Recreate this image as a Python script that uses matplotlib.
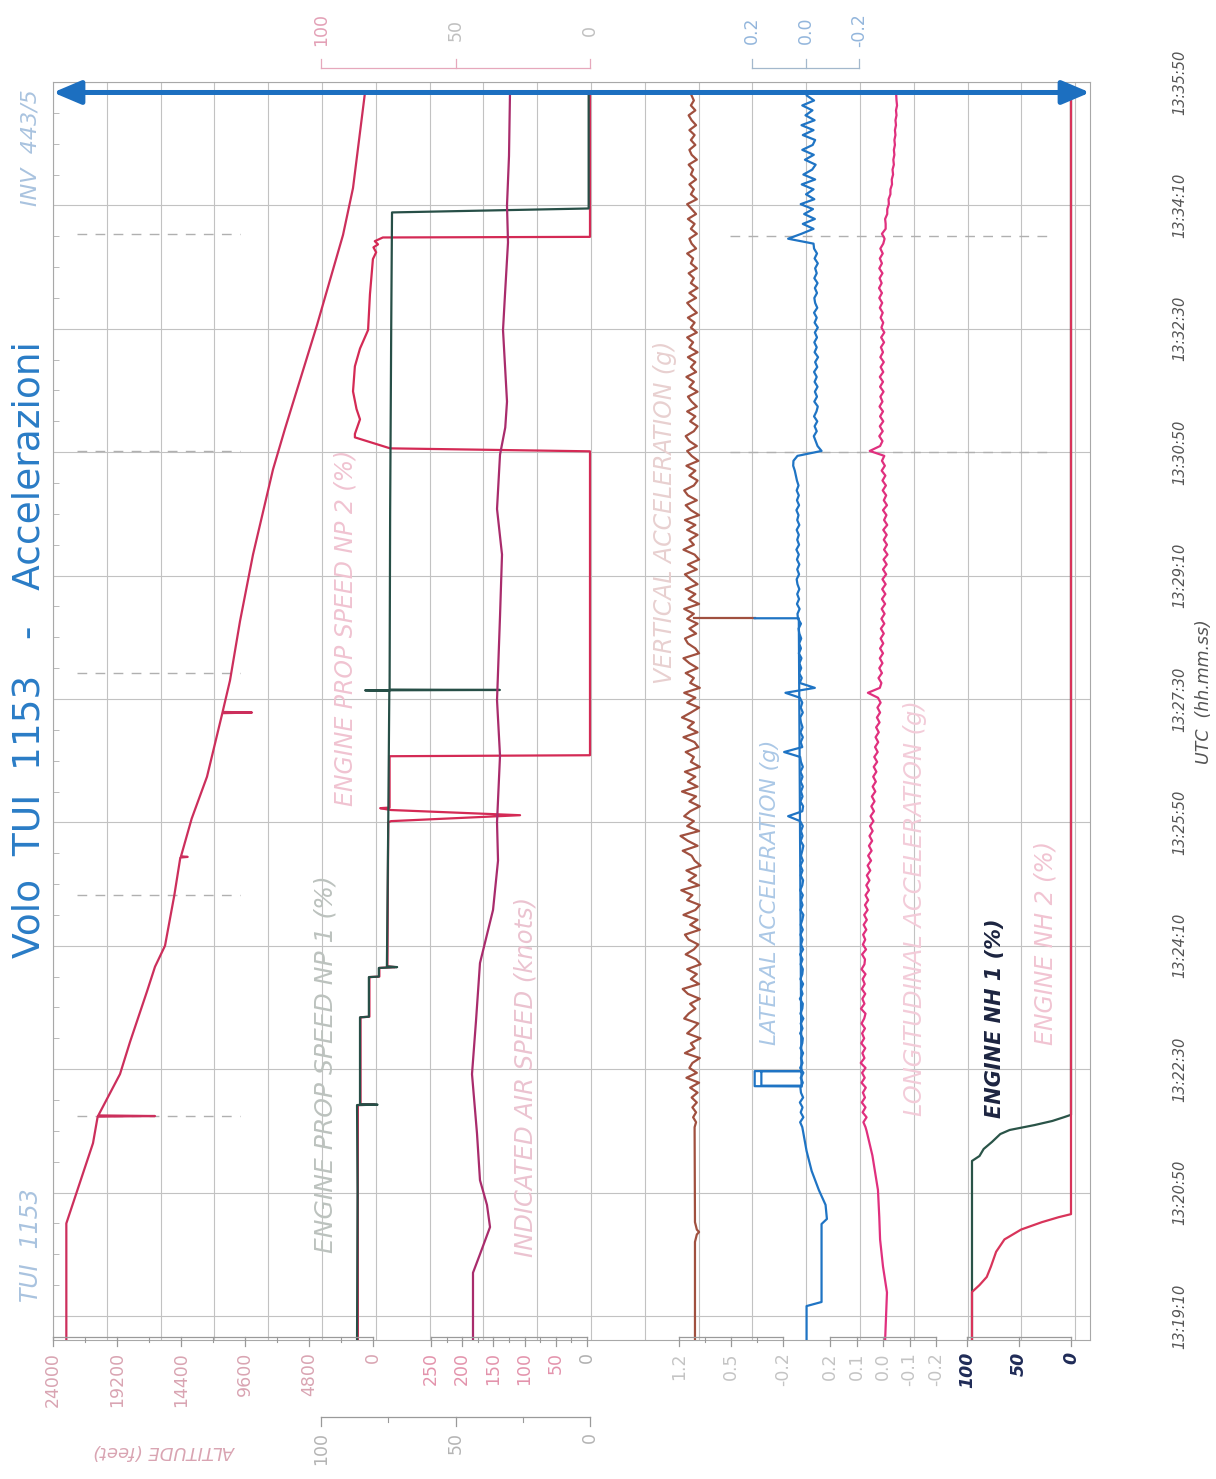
import numpy as np
import matplotlib
matplotlib.use("Agg")
import matplotlib.pyplot as plt
from matplotlib import transforms
from matplotlib.lines import Line2D

# ---------------- data (time = seconds after 13:19:10) ----------------
time_ticks = np.arange(0, 1001, 100)
time_labels = ['13:19:10', '13:20:50', '13:22:30', '13:24:10', '13:25:50', '13:27:30',
               '13:29:10', '13:30:50', '13:32:30', '13:34:10', '13:35:50']

alt_t = [-19.5, 75, 140, 161.5, 162, 162.5, 196, 222, 263, 283, 300, 341, 371.5, 372, 372.5,
         403, 437, 488.5, 489, 489.5, 515, 563, 617, 686, 719, 803, 876, 914, 991.5]
alt_ft = [23000, 23000, 21000, 20650, 16350, 20600, 18975, 18225, 16950, 16350, 15600, 14900,
          14450, 13900, 14400, 13600, 12450, 11300, 9075, 11280, 10725, 9975, 9000, 7500,
          6600, 4200, 2250, 1500, 600]

np1_t = [-19.5, 100, 170.9, 171.2, 171.5, 242, 242.5, 274.6, 275, 282, 282.7, 283.3, 400,
         506.5, 507, 507.3, 507.6, 650, 800, 894.3, 897.5, 991.5]
np1_pct = [86.6, 86.4, 86.6, 79.0, 85.5, 85.5, 82.2, 82.2, 78.5, 78.5, 71.7, 75.5, 75.0,
           74.6, 83.6, 33.5, 74.5, 74.3, 73.9, 73.6, 0.5, 0.5]

np2_t = [-19.5, 170.9, 171.2, 171.5, 242, 242.5, 274.6, 275, 282, 282.7, 283.3, 400, 401,
         405.8, 410, 411.5, 412, 453.6, 454.4, 700.7, 703.1, 712, 714.8, 726.6, 735, 749.3,
         769.6, 784, 799, 828, 856.5, 862, 866, 868.4, 871, 874, 874.5, 991.5]
np2_pct = [86.3, 86.3, 80.0, 85.3, 85.3, 82.0, 82.0, 78.3, 78.3, 72.5, 75.3, 75.0, 74.0,
           26.0, 74.0, 78.0, 74.5, 74.5, 0.0, 0.0, 74.3, 87.4, 87.4, 85.5, 86.8, 88.1,
           87.4, 85.5, 82.5, 81.8, 80.7, 79.5, 80.5, 78.8, 80.0, 77.0, 0.0, 0.0]

ias_t = [-19.5, 35, 50, 72, 90, 110, 148, 196, 239, 286, 329, 369, 400, 454, 499, 567, 617,
         654, 698, 720, 741, 770, 799, 828, 870, 900, 940, 991.5]
ias_kt = [182.7, 182.7, 171.5, 155.4, 160.3, 171.5, 176.3, 184.3, 177.9, 171.5, 150.6, 142.6,
          144.2, 139.4, 144.2, 139.4, 136.2, 144.2, 139.4, 131.0, 128.2, 131.4, 134.6, 131.4,
          126.6, 128.2, 125.0, 123.4]

nh1_t = [-19.5, 125.6, 129.6, 135.3, 141, 147.4, 150.7, 154.7, 158, 161, 163, 991.5]
nh1_pct = [95.2, 95.2, 88, 84, 76, 68, 59, 35, 18, 7, 0, 0]
nh2_t = [-19.5, 19.4, 25, 31.6, 40, 52, 62, 70, 76, 80, 82.5, 991.5]
nh2_pct = [95.2, 95.2, 88, 81, 77, 72, 64, 48, 28, 12, 0, 0]

# accelerations: start section, then 4 s samples from 153 s
acc_t = np.arange(153, 990, 4)

vacc_t0 = [-19.5, 60, 66, 68, 70, 76, 153]
vacc_g0 = [0.985, 0.985, 0.96, 0.93, 0.96, 0.985, 0.99]
vacc_g = np.array("""
0.99 0.97 1.01 0.97 1.02 0.96 1.03 0.95 1.05 0.93
1.10 0.96 1.06 1.02 0.92 1.12 0.99 1.04 0.91 1.09
1.01 0.94 1.13 1.07 0.98 1.05 0.92 1.08 1.15 0.93
1.04 0.96 1.09 0.91 0.97 1.11 1.00 0.94 1.07 1.12
0.92 1.05 0.95 1.14 0.98 0.92 1.09 1.02 1.17 0.93
1.07 0.97 1.10 0.91 0.99 1.03 1.15 0.95 1.08 1.18
0.93 1.09 1.00 1.13 1.05 0.92 1.06 0.97 1.16 0.95
1.08 0.98 1.12 0.92 1.04 1.00 1.11 0.94 0.99 1.14
0.95 1.08 1.00 1.16 1.04 0.93 1.09 0.98 1.13 0.92
1.05 1.00 1.11 0.95 1.06 1.14 0.93 0.98 1.08 1.12
0.97 1.06 0.95 1.09 1.00 1.13 0.93 1.07 0.98 1.11
0.95 1.04 1.12 0.96 1.08 0.93 0.99 1.14 1.00 1.06
0.95 1.09 0.98 1.12 0.93 1.04 1.11 0.96 1.08 1.13
1.00 0.95 1.06 0.98 1.10 0.94 1.03 1.09 0.96 1.06
1.11 1.00 0.95 1.05 0.98 1.09 0.96 1.03 1.08 0.95
1.06 1.00 1.10 0.97 1.04 0.98 1.08 0.95 1.06 1.01
1.09 0.96 1.04 0.99 1.08 0.96 1.03 1.09 0.97 1.06
0.95 1.04 1.00 1.07 0.96 1.04 1.01 1.09 0.97 1.03
1.06 0.96 1.04 0.99 1.08 0.97 1.03 1.09 0.96 1.04
1.00 1.06 0.97 1.04 1.01 1.07 0.96 1.03 1.06 0.98
1.04 0.99 1.06 0.97 1.03 1.07 0.98 1.04 1.00 1.03
""".split(), float)
vacc_glitch_t = [565.4, 565.4]
vacc_glitch_g = [1.00, 0.18]

lat_t0 = [-19.5, 8, 11.3, 74.5, 78.6, 90, 102, 117.5, 133.7, 153]
lat_g0 = [-0.004, -0.004, -0.060, -0.060, -0.080, -0.075, -0.050, -0.023, -0.004, 0.012]
lat_g = np.array("""
0.012 0.020 0.008 0.018 0.011 0.021 0.009 0.017 0.019 0.010
0.018 0.008 0.020 0.011 0.017 0.009 0.019 0.012 0.010 0.020
0.011 0.018 0.008 0.019 0.012 0.010 0.021 0.011 0.017 0.009
0.019 0.012 0.010 0.018 0.011 0.020 0.009 0.017 0.011 0.019
0.010 0.018 0.012 0.008 0.019 0.011 0.017 0.010 0.020 0.012
0.009 0.018 0.011 0.019 0.010 0.017 0.012 0.008 0.018 0.011
0.017 0.010 0.020 0.065 0.012 0.009 0.019 0.011 0.017 0.010
0.018 0.011 0.019 0.010 0.017 0.020 0.080 0.012 0.018 0.010
0.019 0.011 0.017 0.020 0.010 0.018 0.012 0.021 0.075 -0.035
0.022 0.014 0.024 0.016 0.023 0.015 0.025 0.017 0.024 0.016
0.023 0.026 0.017 0.028 0.030 0.022 0.032 0.024 0.031 0.023
0.030 0.033 0.024 0.031 0.023 0.032 0.025 0.034 0.024 0.031
0.025 0.033 0.023 0.031 0.026 0.034 0.024 0.032 0.025 0.033
0.026 0.032 0.036 0.040 0.046 0.045 0.030 -0.060 -0.045 -0.038
-0.031 -0.042 -0.034 -0.044 -0.032 -0.041 -0.046 -0.033 -0.043 -0.035
-0.045 -0.034 -0.042 -0.032 -0.044 -0.036 -0.047 -0.034 -0.042 -0.033
-0.043 -0.035 -0.046 -0.034 -0.042 -0.032 -0.044 -0.036 -0.033 -0.043
-0.035 -0.045 -0.033 -0.042 -0.036 -0.046 -0.034 -0.043 -0.032 -0.030
0.065 0.015 -0.030 0.010 -0.035 0.005 -0.028 0.018 -0.033 -0.002
-0.030 0.014 -0.036 0.008 -0.025 -0.038 0.002 -0.031 0.012 -0.027
-0.036 0.010 -0.030 0.015 -0.034 0.000 -0.026 0.012 -0.032 -0.005
""".split(), float)
lat_glitch_t = [186.0, 186.2, 198.4, 198.4, 198.4, 186.6, 186.6, 565.4, 565.4]
lat_glitch_g = [0.015, 0.19, 0.19, 0.015, 0.165, 0.165, 0.015, 0.025, 0.19]

lon_t0 = [-19.5, 19, 40, 62, 80, 102, 130, 150, 153]
lon_g0 = [-0.008, -0.015, 0.000, 0.011, 0.014, 0.019, 0.040, 0.062, 0.066]
lon_g = np.array("""
0.066 0.074 0.062 0.077 0.066 0.080 0.068 0.076 0.065 0.081
0.069 0.079 0.066 0.084 0.070 0.078 0.067 0.082 0.071 0.079
0.068 0.081 0.071 0.066 0.083 0.070 0.078 0.067 0.080 0.069
0.077 0.066 0.081 0.070 0.068 0.079 0.064 0.076 0.067 0.075
0.063 0.073 0.061 0.071 0.058 0.068 0.056 0.066 0.053 0.063
0.051 0.061 0.048 0.058 0.045 0.056 0.043 0.053 0.041 0.051
0.039 0.049 0.036 0.047 0.034 0.044 0.032 0.042 0.029 0.039
0.027 0.037 0.025 0.035 0.022 0.033 0.020 0.030 0.018 0.028
0.016 0.026 0.013 0.023 0.011 0.021 0.009 0.019 0.057 0.012
0.006 0.017 0.004 0.014 0.002 0.012 0.000 0.011 -0.001 0.009
-0.003 0.008 -0.005 0.006 -0.006 0.005 -0.008 0.004 -0.009 0.003
-0.010 0.002 -0.012 0.000 -0.014 -0.002 -0.017 -0.004 -0.015 -0.003
-0.014 -0.001 -0.016 -0.004 -0.013 0.000 -0.015 -0.003 -0.012 0.001
-0.011 0.002 -0.009 0.005 -0.007 0.004 -0.005 0.050 0.011 0.002
0.014 0.001 0.012 -0.001 0.011 0.000 0.013 0.002 0.010 -0.002
0.011 0.000 0.012 -0.001 0.009 -0.003 0.010 0.000 0.008 -0.004
0.007 -0.005 0.006 -0.001 0.009 0.001 0.012 0.003 0.014 0.004
0.015 0.005 0.013 0.002 0.014 0.004 0.012 0.001 0.010 -0.001
-0.006 0.004 -0.010 -0.010 -0.008 -0.016 -0.016 -0.022 -0.021 -0.028
-0.028 -0.034 -0.033 -0.038 -0.036 -0.041 -0.039 -0.043 -0.041 -0.045
-0.043 -0.047 -0.045 -0.049 -0.047 -0.051 -0.049 -0.053 -0.051 -0.050
""".split(), float)

arrow_t = 991.5
event_left_t = [162, 341, 521, 700.7, 876.5]
event_right_t = [700, 875]

# ---------------- layout (image pixels) ----------------
W, H = 1216, 1479
X0, X1 = 53, 1090
Y_TOP, Y_BOT = 82, 1340
T0, T1 = -19.5, 1000
GRID_PX = 53.8


def fx(x):
    return x / W


def fy(y):
    return 1 - y / H


fig = plt.figure(figsize=(W / 100, H / 100), dpi=100)
ax = fig.add_axes([fx(X0), fy(Y_BOT), (X1 - X0) / W, (Y_BOT - Y_TOP) / H])
ax.set_xlim(0, (X1 - X0) / GRID_PX)
ax.set_ylim(T0, T1)
ax.set_xticks(np.arange(0, 20))
ax.set_yticks(time_ticks)
ax.grid(True, color='#c2c2c2', lw=0.8)
ax.tick_params(which='major', length=0, labelbottom=False, labelleft=False)
ax.set_yticks(np.arange(0, 1000, 25), minor=True)
ax.tick_params(which='minor', axis='y', direction='in', length=4, color='#b0b0b0')
for s in ax.spines.values():
    s.set_color('#a8a8a8')
    s.set_linewidth(0.8)

# dashed event marks
for t in event_left_t:
    ax.plot([(77 - X0) / GRID_PX, (240 - X0) / GRID_PX], [t, t], color='#b0b0b0', lw=1.0,
            ls=(0, (7, 6)))
for t in event_right_t:
    ax.plot([(730 - X0) / GRID_PX, (1050 - X0) / GRID_PX], [t, t], color='#b0b0b0', lw=1.0,
            ls=(0, (7, 6)))

yax = transforms.blended_transform_factory(ax.transAxes, ax.transData)
for t, lab in zip(time_ticks, time_labels):
    ax.text(1 + (1180 - X1) / (X1 - X0), t, lab, transform=yax, rotation=90, ha='center',
            va='center', fontsize=10.5, style='italic', color='#555555')
fig.text(fx(1204), fy(692), 'UTC  (hh.mm.ss)', rotation=90, ha='center', va='center',
         fontsize=12.5, style='italic', color='#555555')


def scaled_axis(v_a, p_a, v_b, p_b):
    a = ax.twiny()
    k = (v_b - v_a) / (p_b - p_a)
    a.set_xlim(v_a + (X0 - p_a) * k, v_a + (X1 - p_a) * k)
    a.set_axis_off()
    return a


ax_alt = scaled_axis(24000, 53, 0, 373)
ax_np = scaled_axis(100, 321, 0, 590)
ax_ias = scaled_axis(250, 431, 0, 587)
ax_vac = scaled_axis(1.2, 679, -0.2, 783)
ax_lat = scaled_axis(0.2, 752, -0.2, 859)
ax_lon = scaled_axis(0.2, 830, -0.2, 936)
ax_nh = scaled_axis(100, 967, 0, 1071)

LW = 1.6
ax_alt.plot(alt_ft, alt_t, color='#cc2f5c', lw=LW)
ax_np.plot(np2_pct, np2_t, color='#d42a55', lw=LW)
ax_np.plot(np1_pct, np1_t, color='#274f47', lw=LW)
ax_ias.plot(ias_kt, ias_t, color='#a92c6c', lw=LW)

ax_vac.plot(vacc_g0 + list(vacc_g), vacc_t0 + list(acc_t), color='#a0503f', lw=LW)
ax_vac.plot(vacc_glitch_g, vacc_glitch_t, color='#a0503f', lw=LW)
ax_lat.plot(lat_g0 + list(lat_g), lat_t0 + list(acc_t), color='#1f74c4', lw=LW)
ax_lat.plot(lat_glitch_g, lat_glitch_t, color='#1f74c4', lw=LW)
ax_lon.plot(lon_g0 + list(lon_g), lon_t0 + list(acc_t), color='#e0307e', lw=LW)

ax_nh.plot(nh1_pct, nh1_t, color='#2a5448', lw=LW)
ax_nh.plot(nh2_pct, nh2_t, color='#d8345a', lw=LW)

ax_nh.annotate('', xy=(0.0, arrow_t), xytext=(1.0, arrow_t), xycoords=yax, textcoords=yax,
               arrowprops=dict(arrowstyle='<|-|>,head_length=1.3,head_width=0.55',
                               color='#1c6fc0', lw=3.6, mutation_scale=13,
                               shrinkA=0, shrinkB=0))


# ---------------- value scales outside the plot ----------------
def scale_bar(a, ticks, labels, y_line, minor=(), tick_dir=1, label_y=None, va='top',
              line_c='#9a9a9a', text_c='#b8b8b8', fs=12, weight='normal', style='normal'):
    tr = transforms.blended_transform_factory(a.transData, fig.transFigure)
    fig.add_artist(Line2D([ticks[0], ticks[-1]], [fy(y_line)] * 2, transform=tr,
                          color=line_c, lw=0.9))
    for v in ticks:
        fig.add_artist(Line2D([v, v], [fy(y_line), fy(y_line + 9 * tick_dir)], transform=tr,
                              color=line_c, lw=0.9))
    for v in minor:
        fig.add_artist(Line2D([v, v], [fy(y_line), fy(y_line + 5 * tick_dir)], transform=tr,
                              color=line_c, lw=0.8))
    if label_y is None:
        label_y = y_line + 15
    cols = text_c if isinstance(text_c, list) else [text_c] * len(ticks)
    for v, lab, c in zip(ticks, labels, cols):
        fig.text(v, fy(label_y), lab, transform=tr, rotation=90, ha='center', va=va,
                 fontsize=fs, color=c, fontweight=weight, style=style)


scale_bar(ax_alt, [24000, 19200, 14400, 9600, 4800, 0],
          ['24000', '19200', '14400', '9600', '4800', '0'], 1337,
          minor=[21600, 16800, 12000, 7200, 2400], text_c='#d9a4b2', fs=12.5)
scale_bar(ax_ias, [250, 200, 150, 100, 50, 0], ['250', '200', '150', '100', '50', '0'], 1337,
          minor=[225, 175, 125, 75, 25],
          text_c=['#e393ac'] * 5 + ['#b0b0b0'], fs=12.5)
scale_bar(ax_np, [100, 50, 0], ['100', '50', '0'], 1417, minor=[75, 25],
          text_c='#b4b4b4', fs=12.5)
scale_bar(ax_vac, [1.2, 0.5, -0.2], ['1.2', '0.5', '-0.2'], 1337, minor=[0.85, 0.15],
          text_c='#c4c4c4', fs=12.5)
scale_bar(ax_lon, [0.2, 0.1, 0.0, -0.1, -0.2], ['0.2', '0.1', '0.0', '-0.1', '-0.2'], 1337,
          text_c='#c4c4c4', fs=12.5)
scale_bar(ax_nh, [100, 50, 0], ['100', '50', '0'], 1337, text_c='#1f2b57', fs=12.5,
          weight='bold', style='italic')
# scales above the plot
scale_bar(ax_np, [100, 50, 0], ['100', '50', '0'], 68, tick_dir=-1, label_y=30, va='center',
          line_c='#e6a8bc', text_c=['#e3a0b6', '#c0c0c0', '#c0c0c0'], fs=12.5)
scale_bar(ax_lat, [0.2, 0.0, -0.2], ['0.2', '0.0', '-0.2'], 68, tick_dir=-1, label_y=30,
          va='center', line_c='#a3b8cc', text_c='#93b6dc', fs=12.5)

fig.text(fx(165), fy(1451), 'ALTITUDE (feet)', rotation=180, ha='center', va='center',
         fontsize=13, style='italic', color='#d9a4b2')

# ---------------- titles and series names ----------------
fig.text(fx(30), fy(650), 'Volo  TUI  1153   -   Accelerazioni', rotation=90, ha='center',
         va='center', fontsize=27, color='#2a7cc6',
         family=['Liberation Sans Narrow', 'DejaVu Sans'])
fig.text(fx(31), fy(1245), 'TUI  1153', rotation=90, ha='center', va='center', fontsize=17,
         style='italic', color='#a9c3df')
fig.text(fx(31), fy(148), 'INV  443/5', rotation=90, ha='center', va='center', fontsize=16,
         style='italic', color='#a9c3df')

names = [
    ('ENGINE PROP SPEED NP 1 (%)', 325, 1064, '#bcc2be', 'normal', 18),
    ('INDICATED AIR SPEED (knots)', 525, 1077, '#ebc3d0', 'normal', 17.5),
    ('ENGINE PROP SPEED NP 2 (%)', 345, 628, '#f0c3d1', 'normal', 17),
    ('VERTICAL ACCELERATION (g)', 665, 512, '#e8d0d0', 'normal', 17),
    ('LATERAL ACCELERATION (g)', 770, 892, '#abc8e6', 'normal', 15.7),
    ('LONGITUDINAL ACCELERATION (g)', 915, 908, '#f3ccd9', 'normal', 17.4),
    ('ENGINE NH 1 (%)', 995, 1018, '#1c2440', 'bold', 15),
    ('ENGINE NH 2 (%)', 1045, 943, '#f1c4d2', 'normal', 17),
]
for txt, x, y, c, w, fs in names:
    fig.text(fx(x), fy(y), txt, rotation=90, ha='center', va='center', fontsize=fs,
             style='italic', color=c, fontweight=w)

fig.savefig('out.png', dpi=100)
